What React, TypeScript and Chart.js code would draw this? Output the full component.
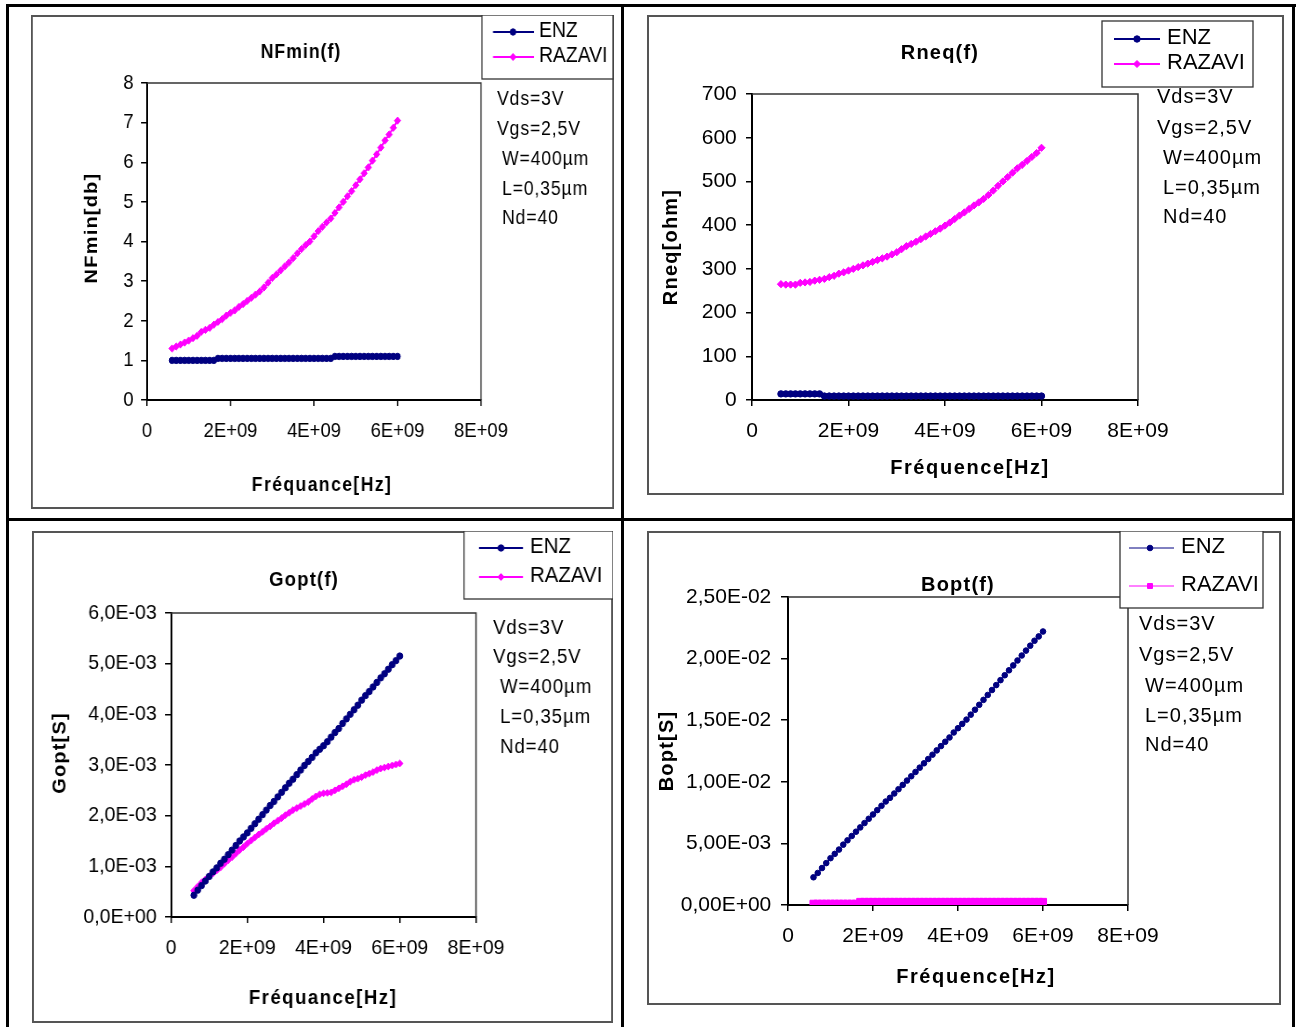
import React, { useEffect, useRef } from "react";
import { Chart, registerables } from "chart.js";

Chart.register(...registerables);

const FONT = "'Liberation Sans', Arial, Helvetica, sans-serif";
const NAVY = "#000080";
const MAGENTA = "#FF00FF";

// ---------- data ----------
const FREQ_HZ = [
  6e8, 7e8, 8e8, 9e8,
  1.0e9, 1.1e9, 1.2e9, 1.3e9, 1.4e9, 1.5e9, 1.6e9, 1.7e9, 1.8e9, 1.9e9,
  2.0e9, 2.1e9, 2.2e9, 2.3e9, 2.4e9, 2.5e9, 2.6e9, 2.7e9, 2.8e9, 2.9e9,
  3.0e9, 3.1e9, 3.2e9, 3.3e9, 3.4e9, 3.5e9, 3.6e9, 3.7e9, 3.8e9, 3.9e9,
  4.0e9, 4.1e9, 4.2e9, 4.3e9, 4.4e9, 4.5e9, 4.6e9, 4.7e9, 4.8e9, 4.9e9,
  5.0e9, 5.1e9, 5.2e9, 5.3e9, 5.4e9, 5.5e9, 5.6e9, 5.7e9, 5.8e9, 5.9e9,
  6.0e9,
];

const NFMIN_ENZ = [
  1.0, 1.0, 1.0, 1.0, 1.0, 1.0, 1.0, 1.0, 1.0, 1.0, 1.0,
  1.05, 1.05, 1.05, 1.05, 1.05, 1.05, 1.05, 1.05, 1.05, 1.05,
  1.05, 1.05, 1.05, 1.05, 1.05, 1.05, 1.05, 1.05, 1.05, 1.05,
  1.05, 1.05, 1.05, 1.05, 1.05, 1.05, 1.05, 1.05,
  1.1, 1.1, 1.1, 1.1, 1.1, 1.1, 1.1, 1.1, 1.1, 1.1,
  1.1, 1.1, 1.1, 1.1, 1.1, 1.1,
];
const NFMIN_RAZAVI = [
  1.30, 1.35, 1.40, 1.45, 1.50, 1.56, 1.62, 1.72, 1.77, 1.82,
  1.90, 1.97, 2.04, 2.13, 2.20, 2.26, 2.35, 2.42, 2.50, 2.58,
  2.66, 2.74, 2.84, 2.96, 3.08, 3.17, 3.27, 3.37, 3.47, 3.58,
  3.70, 3.81, 3.91, 4.00, 4.13, 4.26, 4.37, 4.48, 4.58, 4.72,
  4.86, 5.00, 5.14, 5.27, 5.42, 5.57, 5.72, 5.87, 6.04, 6.20,
  6.37, 6.55, 6.70, 6.87, 7.05,
];

const RNEQ_ENZ = [
  14, 14, 14, 14, 14, 14, 14, 14, 14,
  9, 9, 9, 9, 9, 9, 9, 9, 9, 9,
  9, 9, 9, 9, 9, 9, 9, 9, 9, 9,
  9, 9, 9, 9, 9, 9, 9, 9, 9, 9,
  9, 9, 9, 9, 9, 9, 9, 9, 9, 9,
  9, 9, 9, 9, 9, 9,
];
const RNEQ_RAZAVI = [
  265, 264, 264, 264, 268, 269, 270, 273, 275, 277,
  281, 284, 289, 292, 296, 300, 304, 308, 312, 316,
  320, 324, 328, 333, 338, 345, 352, 357, 362, 368,
  374, 380, 386, 392, 399, 406, 414, 422, 429, 437,
  445, 452, 460, 469, 479, 490, 500, 510, 520, 530,
  538, 547, 556, 565, 577,
];

const GOPT_ENZ = [
  0.43e-3, 0.53e-3, 0.62e-3, 0.71e-3, 0.80e-3, 0.89e-3, 0.97e-3, 1.06e-3, 1.14e-3, 1.23e-3,
  1.32e-3, 1.41e-3, 1.50e-3, 1.58e-3, 1.66e-3, 1.75e-3, 1.84e-3, 1.93e-3, 2.02e-3, 2.11e-3,
  2.20e-3, 2.28e-3, 2.37e-3, 2.46e-3, 2.55e-3, 2.64e-3, 2.72e-3, 2.81e-3, 2.90e-3, 2.99e-3,
  3.07e-3, 3.15e-3, 3.24e-3, 3.31e-3, 3.38e-3, 3.46e-3, 3.55e-3, 3.64e-3, 3.72e-3, 3.82e-3,
  3.91e-3, 4.00e-3, 4.09e-3, 4.18e-3, 4.28e-3, 4.37e-3, 4.45e-3, 4.54e-3, 4.63e-3, 4.72e-3,
  4.80e-3, 4.89e-3, 4.98e-3, 5.06e-3, 5.15e-3,
];
const GOPT_RAZAVI = [
  0.52e-3, 0.60e-3, 0.68e-3, 0.74e-3, 0.80e-3, 0.86e-3, 0.92e-3, 0.98e-3, 1.05e-3, 1.12e-3,
  1.18e-3, 1.25e-3, 1.32e-3, 1.38e-3, 1.45e-3, 1.51e-3, 1.57e-3, 1.63e-3, 1.68e-3, 1.74e-3,
  1.79e-3, 1.85e-3, 1.90e-3, 1.95e-3, 2.01e-3, 2.06e-3, 2.11e-3, 2.15e-3, 2.19e-3, 2.23e-3,
  2.27e-3, 2.33e-3, 2.38e-3, 2.42e-3, 2.44e-3, 2.45e-3, 2.46e-3, 2.50e-3, 2.54e-3, 2.58e-3,
  2.62e-3, 2.67e-3, 2.71e-3, 2.73e-3, 2.76e-3, 2.80e-3, 2.83e-3, 2.86e-3, 2.90e-3, 2.93e-3,
  2.95e-3, 2.97e-3, 2.99e-3, 3.01e-3, 3.03e-3,
];

const BOPT_ENZ = [
  0.225e-2, 0.26e-2, 0.30e-2, 0.34e-2, 0.38e-2, 0.415e-2, 0.45e-2, 0.49e-2, 0.525e-2, 0.56e-2,
  0.595e-2, 0.63e-2, 0.665e-2, 0.70e-2, 0.735e-2, 0.77e-2, 0.805e-2, 0.84e-2, 0.87e-2, 0.905e-2,
  0.94e-2, 0.975e-2, 1.01e-2, 1.045e-2, 1.08e-2, 1.115e-2, 1.15e-2, 1.185e-2, 1.22e-2, 1.255e-2,
  1.29e-2, 1.325e-2, 1.36e-2, 1.40e-2, 1.435e-2, 1.47e-2, 1.505e-2, 1.545e-2, 1.585e-2, 1.625e-2,
  1.665e-2, 1.705e-2, 1.745e-2, 1.785e-2, 1.825e-2, 1.865e-2, 1.905e-2, 1.945e-2, 1.985e-2, 2.025e-2,
  2.065e-2, 2.105e-2, 2.145e-2, 2.18e-2, 2.22e-2,
];
const BOPT_RAZAVI = [
  1.0e-4, 1.0e-4, 1.0e-4, 1.0e-4, 1.0e-4, 1.0e-4, 1.0e-4, 1.0e-4, 1.0e-4, 1.0e-4, 1.0e-4,
  2.5e-4, 2.5e-4, 2.5e-4, 2.5e-4, 2.5e-4, 2.5e-4, 2.5e-4, 2.5e-4, 2.5e-4, 2.5e-4,
  2.5e-4, 2.5e-4, 2.5e-4, 2.5e-4, 2.5e-4, 2.5e-4, 2.5e-4, 2.5e-4, 2.5e-4, 2.5e-4,
  2.5e-4, 2.5e-4, 2.5e-4, 2.5e-4, 2.5e-4, 2.5e-4, 2.5e-4, 2.5e-4, 2.5e-4, 2.5e-4,
  2.5e-4, 2.5e-4, 2.5e-4, 2.5e-4, 2.5e-4, 2.5e-4, 2.5e-4, 2.5e-4, 2.5e-4, 2.5e-4,
  2.5e-4, 2.5e-4, 2.5e-4, 2.5e-4,
];

// ---------- tick labels & texts ----------
const X_TICK_LABELS = ["0", "2E+09", "4E+09", "6E+09", "8E+09"];
const NF_Y_LABELS = ["0", "1", "2", "3", "4", "5", "6", "7", "8"];
const RNEQ_Y_LABELS = ["0", "100", "200", "300", "400", "500", "600", "700"];
const GOPT_Y_LABELS = ["0,0E+00", "1,0E-03", "2,0E-03", "3,0E-03", "4,0E-03", "5,0E-03", "6,0E-03"];
const BOPT_Y_LABELS = ["0,00E+00", "5,00E-03", "1,00E-02", "1,50E-02", "2,00E-02", "2,50E-02"];
const NOTES = ["Vds=3V", "Vgs=2,5V", "W=400µm", "L=0,35µm", "Nd=40"];
const SERIES_NAMES = ["ENZ", "RAZAVI"];

// ---------- layout ----------
type Series = {
  label: string; values: number[]; color: string; marker: string;
  radius: number; lineWidth: number; clip?: any;
};
type Panel = {
  key: string; x: number; y: number; w: number; h: number; sx: number;
  plot: [number, number, number, number];
  yMax: number; yStep: number; yLabels: string[];
  yLabelRight: number; yTickLen: number; xLabelCenter: number;
  title: [string, number, number];
  yTitle: [string, number, number];
  xTitle: [string, number, number];
  legendBox: [number, number, number, number];
  legendLine: [number, number, number];
  legendTextX: number; legendRows: number[]; legendFont: number;
  notesX: number[]; notesY: number[];
  series: Series[];
};

const PANELS: Panel[] = [
  {
    key: "nf", x: 31, y: 15, w: 583, h: 494, sx: 0.88,
    plot: [147, 83, 481, 400],
    yMax: 8, yStep: 1, yLabels: NF_Y_LABELS,
    yLabelRight: 133.5, yTickLen: 6, xLabelCenter: 431.7,
    title: ["NFmin(f)", 301, 52],
    yTitle: ["NFmin[db]", 92, 228],
    xTitle: ["Fréquance[Hz]", 322, 485],
    legendBox: [482, 15, 613, 79],
    legendLine: [493, 534, 513],
    legendTextX: 539, legendRows: [32, 57], legendFont: 22,
    notesX: [497, 497, 502, 502, 502], notesY: [99, 129, 159, 189, 218],
    series: [
      { label: SERIES_NAMES[0], values: NFMIN_ENZ, color: NAVY, marker: "circle", radius: 3.2, lineWidth: 2 },
      { label: SERIES_NAMES[1], values: NFMIN_RAZAVI, color: MAGENTA, marker: "rectRot", radius: 3.6, lineWidth: 2 },
    ],
  },
  {
    key: "rn", x: 647, y: 15, w: 637, h: 480, sx: 1,
    plot: [752, 94, 1138, 400],
    yMax: 700, yStep: 100, yLabels: RNEQ_Y_LABELS,
    yLabelRight: 736.8, yTickLen: 6, xLabelCenter: 431.7,
    title: ["Rneq(f)", 940, 53],
    yTitle: ["Rneq[ohm]", 671, 247],
    xTitle: ["Fréquence[Hz]", 970, 468],
    legendBox: [1102, 21, 1253, 87],
    legendLine: [1114, 1160, 1137],
    legendTextX: 1167, legendRows: [39, 64], legendFont: 22,
    notesX: [1157, 1157, 1163, 1163, 1163], notesY: [97, 128, 158, 188, 217],
    series: [
      { label: SERIES_NAMES[0], values: RNEQ_ENZ, color: NAVY, marker: "circle", radius: 3.2, lineWidth: 2 },
      { label: SERIES_NAMES[1], values: RNEQ_RAZAVI, color: MAGENTA, marker: "rectRot", radius: 3.6, lineWidth: 2 },
    ],
  },
  {
    key: "go", x: 32, y: 531, w: 581, h: 492, sx: 0.93,
    plot: [171, 613, 476, 917],
    yMax: 0.006, yStep: 0.001, yLabels: GOPT_Y_LABELS,
    yLabelRight: 156.7, yTickLen: 6, xLabelCenter: 948.3,
    title: ["Gopt(f)", 304, 580],
    yTitle: ["Gopt[S]", 60, 753],
    xTitle: ["Fréquance[Hz]", 323, 998],
    legendBox: [464, 531, 613, 599],
    legendLine: [479, 523, 501],
    legendTextX: 530, legendRows: [548, 577], legendFont: 22,
    notesX: [493, 493, 500, 500, 500], notesY: [628, 657, 687, 717, 747],
    series: [
      { label: SERIES_NAMES[0], values: GOPT_ENZ, color: NAVY, marker: "circle", radius: 3.2, lineWidth: 2 },
      { label: SERIES_NAMES[1], values: GOPT_RAZAVI, color: MAGENTA, marker: "rectRot", radius: 3.4, lineWidth: 2 },
    ],
  },
  {
    key: "bo", x: 647, y: 531, w: 634, h: 474, sx: 1,
    plot: [788, 597, 1128, 905],
    yMax: 0.025, yStep: 0.005, yLabels: BOPT_Y_LABELS,
    yLabelRight: 771.3, yTickLen: 7, xLabelCenter: 936.7,
    title: ["Bopt(f)", 958, 585],
    yTitle: ["Bopt[S]", 667, 751],
    xTitle: ["Fréquence[Hz]", 976, 977],
    legendBox: [1120, 531, 1263, 608],
    legendLine: [1129, 1174, 1150],
    legendTextX: 1181, legendRows: [548, 586], legendFont: 22,
    notesX: [1139, 1139, 1145, 1145, 1145], notesY: [624, 655, 686, 716, 745],
    series: [
      { label: SERIES_NAMES[0], values: BOPT_ENZ, color: NAVY, marker: "circle", radius: 2.8, lineWidth: 1 },
      { label: SERIES_NAMES[1], values: BOPT_RAZAVI, color: MAGENTA, marker: "rect", radius: 5, lineWidth: 1, clip: 0 },
    ],
  },
];

// ---------- drawing helpers ----------
function drawText(ctx: CanvasRenderingContext2D, s: string, x: number, y: number, font: string,
  align: CanvasTextAlign, spacing: number, rot = 0) {
  ctx.save();
  ctx.font = font;
  ctx.fillStyle = "#000";
  ctx.textAlign = align;
  ctx.textBaseline = "middle";
  (ctx as any).letterSpacing = spacing + "px";
  ctx.translate(x, y);
  if (rot) ctx.rotate(rot);
  ctx.fillText(s, 0, 0);
  ctx.restore();
}

function drawMarker(ctx: CanvasRenderingContext2D, style: string, x: number, y: number, r: number, color: string) {
  ctx.save();
  ctx.fillStyle = color;
  ctx.strokeStyle = color;
  ctx.lineWidth = 1;
  ctx.beginPath();
  if (style === "circle") {
    ctx.arc(x, y, r, 0, Math.PI * 2);
  } else if (style === "rectRot") {
    ctx.moveTo(x, y - r); ctx.lineTo(x + r, y); ctx.lineTo(x, y + r); ctx.lineTo(x - r, y); ctx.closePath();
  } else {
    const s = Math.SQRT1_2 * r;
    ctx.rect(x - s, y - s, 2 * s, 2 * s);
  }
  ctx.fill();
  ctx.stroke();
  ctx.restore();
}

function buildConfig(p: Panel, Wc: number): any {
  const k = p.w / Wc;
  const cx = (X: number) => (X - p.x) / k;
  const cy = (Y: number) => Y - p.y;
  const L = cx(p.plot[0]);
  const T = cy(p.plot[1]);
  const R = cx(p.plot[2]);
  const B = cy(p.plot[3]);
  const yTick = p.yTickLen / k;
  const yPad = (p.plot[0] - p.yLabelRight) / k - yTick;
  const tickSize = 21;
  const xPad = (p.xLabelCenter - p.plot[3]) - 6 - tickSize * 0.6;

  const decor = {
    id: "decor_" + p.key,
    beforeDraw(chart: any) {
      const ctx = chart.ctx as CanvasRenderingContext2D;
      ctx.save();
      ctx.fillStyle = "#fff";
      ctx.fillRect(0, 0, chart.width, chart.height);
      ctx.strokeStyle = "#555";
      ctx.lineWidth = 2;
      ctx.strokeRect(1, 1, chart.width - 2, chart.height - 2);
      ctx.restore();
    },
    beforeDatasetsDraw(chart: any) {
      const ctx = chart.ctx as CanvasRenderingContext2D;
      const a = chart.chartArea;
      ctx.save();
      ctx.strokeStyle = "#333";
      ctx.lineWidth = 1.5;
      ctx.beginPath();
      ctx.moveTo(a.left, a.top);
      ctx.lineTo(a.right, a.top);
      ctx.lineTo(a.right, a.bottom);
      ctx.stroke();
      ctx.restore();
    },
    afterDraw(chart: any) {
      const ctx = chart.ctx as CanvasRenderingContext2D;
      drawText(ctx, p.title[0], cx(p.title[1]), cy(p.title[2]), `bold 20px ${FONT}`, "center", 1.2);
      drawText(ctx, p.xTitle[0], cx(p.xTitle[1]), cy(p.xTitle[2]), `bold 20px ${FONT}`, "center", 1.6);
      drawText(ctx, p.yTitle[0], cx(p.yTitle[1]), cy(p.yTitle[2]), `bold 20px ${FONT}`, "center", 1.2, -Math.PI / 2);
      NOTES.forEach((t, i) => {
        drawText(ctx, t, cx(p.notesX[i]), cy(p.notesY[i]), `20px ${FONT}`, "left", 1);
      });
      const [bx1, by1, bx2, by2] = p.legendBox;
      ctx.save();
      ctx.fillStyle = "#fff";
      ctx.fillRect(cx(bx1), cy(by1), cx(bx2) - cx(bx1), by2 - by1);
      ctx.strokeStyle = "#333";
      ctx.lineWidth = 1.3;
      ctx.strokeRect(cx(bx1), cy(by1), cx(bx2) - cx(bx1), by2 - by1);
      ctx.restore();
      p.series.forEach((s, i) => {
        const yy = cy(p.legendRows[i]);
        ctx.save();
        ctx.strokeStyle = s.color;
        ctx.lineWidth = s.lineWidth;
        ctx.beginPath();
        ctx.moveTo(cx(p.legendLine[0]), yy);
        ctx.lineTo(cx(p.legendLine[1]), yy);
        ctx.stroke();
        ctx.restore();
        drawMarker(ctx, s.marker, cx(p.legendLine[2]), yy, Math.min(s.radius, 3.5), s.color);
        drawText(ctx, s.label, cx(p.legendTextX), yy - 1.5, `${p.legendFont}px ${FONT}`, "left", 0);
      });
    },
  };

  const tickFont = { family: FONT, size: tickSize };

  return {
    type: "line",
    data: {
      datasets: p.series.map((s) => ({
        label: s.label,
        data: FREQ_HZ.map((f, i) => ({ x: f, y: s.values[i] })),
        borderColor: s.color,
        backgroundColor: s.color,
        borderWidth: s.lineWidth,
        pointStyle: s.marker,
        pointRadius: s.radius,
        pointBorderWidth: 1,
        pointBackgroundColor: s.color,
        pointBorderColor: s.color,
        tension: 0,
        fill: false,
        clip: s.clip === undefined ? false : s.clip,
      })),
    },
    options: {
      responsive: false,
      animation: false,
      devicePixelRatio: 1,
      events: [],
      layout: { padding: { left: 0, top: T, right: Wc - R, bottom: 0 } },
      plugins: {
        legend: { display: false },
        title: { display: false },
        tooltip: { enabled: false },
      },
      scales: {
        x: {
          type: "linear",
          min: 0,
          max: 8e9,
          ticks: {
            stepSize: 2e9,
            autoSkip: false,
            maxRotation: 0,
            padding: xPad,
            font: tickFont,
            color: "#000",
            callback: (_v: any, i: number) => X_TICK_LABELS[i],
          },
          grid: { drawOnChartArea: false, drawTicks: true, tickLength: 6, color: "#000", lineWidth: 1.5 },
          border: { display: true, color: "#000", width: 2 },
          afterFit: (s: any) => { s.height = p.h - B; },
        },
        y: {
          type: "linear",
          min: 0,
          max: p.yMax,
          ticks: {
            stepSize: p.yStep,
            autoSkip: false,
            padding: yPad,
            font: tickFont,
            color: "#000",
            callback: (_v: any, i: number) => p.yLabels[i],
          },
          grid: { drawOnChartArea: false, drawTicks: true, tickLength: yTick, color: "#000", lineWidth: 1.5 },
          border: { display: true, color: "#000", width: 2 },
          afterFit: (s: any) => { s.width = L; },
        },
      },
    },
    plugins: [decor],
  };
}

function PanelChart({ p }: { p: Panel }) {
  const ref = useRef<HTMLCanvasElement>(null);
  const Wc = Math.round(p.w / p.sx);
  useEffect(() => {
    if (!ref.current) return;
    const chart = new Chart(ref.current, buildConfig(p, Wc));
    return () => chart.destroy();
  }, []);
  return (
    <canvas
      ref={ref}
      width={Wc}
      height={p.h}
      style={{ position: "absolute", left: p.x, top: p.y, width: p.w, height: p.h }}
    />
  );
}

const lineStyle = (left: number, top: number, width: number, height: number): React.CSSProperties => ({
  position: "absolute", left, top, width, height, background: "#000",
});

export default function App() {
  return (
    <div style={{ position: "absolute", left: 0, top: 0, width: 1300, height: 1027, background: "#fff", overflow: "hidden" }}>
      <div style={lineStyle(6, 4, 1290, 3)} />
      <div style={lineStyle(6, 4, 3, 1023)} />
      <div style={lineStyle(1292, 4, 3, 1023)} />
      <div style={lineStyle(621, 4, 3, 1023)} />
      <div style={lineStyle(6, 518, 1289, 3)} />
      {PANELS.map((p) => (
        <PanelChart key={p.key} p={p} />
      ))}
    </div>
  );
}
